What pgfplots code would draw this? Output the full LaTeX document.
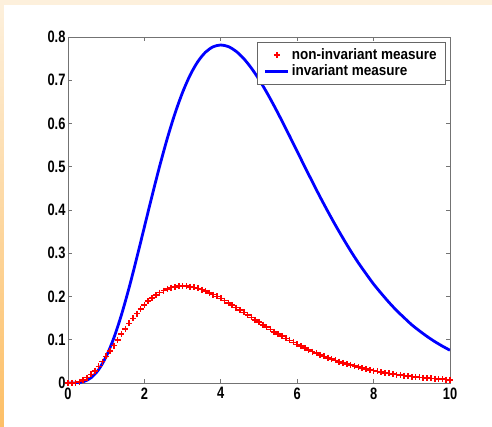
\documentclass[border=0pt]{standalone}
\usepackage{fontspec}
\setmainfont{Liberation Sans}
\newfontfamily\tickfont[FakeStretch=0.78]{Liberation Sans}
\newfontfamily\legfont[FakeStretch=0.9]{Liberation Sans}
\usepackage{pgfplots}
\pgfplotsset{compat=1.18}
\definecolor{stripe}{HTML}{FDBF66}
\definecolor{paper}{HTML}{FDF0DC}

% non-invariant measure (red + marks)
\pgfplotstableread{
x y
0.0 0.0000
0.1 0.0002
0.2 0.0011
0.3 0.0033
0.4 0.0072
0.5 0.0126
0.6 0.0198
0.7 0.0284
0.8 0.0383
0.9 0.0494
1.0 0.0613
1.1 0.0738
1.2 0.0867
1.3 0.0998
1.4 0.1128
1.5 0.1255
1.6 0.1378
1.7 0.1496
1.8 0.1607
1.9 0.1710
2.0 0.1804
2.1 0.1890
2.2 0.1966
2.3 0.2033
2.4 0.2090
2.5 0.2138
2.6 0.2176
2.7 0.2205
2.8 0.2225
2.9 0.2237
3.0 0.2240
3.1 0.2237
3.2 0.2226
3.3 0.2209
3.4 0.2186
3.5 0.2158
3.6 0.2125
3.7 0.2087
3.8 0.2046
3.9 0.2001
4.0 0.1954
4.1 0.1904
4.2 0.1852
4.3 0.1798
4.4 0.1743
4.5 0.1687
4.6 0.1631
4.7 0.1574
4.8 0.1517
4.9 0.1460
5.0 0.1404
5.1 0.1348
5.2 0.1293
5.3 0.1239
5.4 0.1185
5.5 0.1133
5.6 0.1082
5.7 0.1033
5.8 0.0985
5.9 0.0938
6.0 0.0892
6.1 0.0849
6.2 0.0806
6.3 0.0765
6.4 0.0726
6.5 0.0688
6.6 0.0652
6.7 0.0617
6.8 0.0584
6.9 0.0552
7.0 0.0521
7.1 0.0492
7.2 0.0465
7.3 0.0438
7.4 0.0413
7.5 0.0389
7.6 0.0366
7.7 0.0345
7.8 0.0324
7.9 0.0305
8.0 0.0286
8.1 0.0269
8.2 0.0253
8.3 0.0237
8.4 0.0222
8.5 0.0208
8.6 0.0195
8.7 0.0183
8.8 0.0172
8.9 0.0160
9.0 0.0149
9.1 0.0141
9.2 0.0131
9.3 0.0123
9.4 0.0114
9.5 0.0107
9.6 0.0100
9.7 0.0093
9.8 0.0087
9.9 0.0081
10.0 0.0076
}\noninv

% invariant measure (blue line)
\pgfplotstableread{
x y
0.0 0.0000
0.2 0.0002
0.4 0.0029
0.6 0.0119
0.8 0.0307
1.0 0.0613
1.2 0.1041
1.4 0.1579
1.6 0.2205
1.8 0.2892
2.0 0.3609
2.2 0.4326
2.4 0.5016
2.6 0.5657
2.8 0.6230
3.0 0.6721
3.2 0.7124
3.4 0.7433
3.6 0.7649
3.8 0.7774
4.0 0.7815
4.2 0.7777
4.4 0.7669
4.6 0.7501
4.8 0.7281
5.0 0.7019
5.2 0.6723
5.4 0.6401
5.6 0.6061
5.8 0.5711
6.0 0.5355
6.2 0.4997
6.4 0.4647
6.6 0.4301
6.8 0.3970
7.0 0.3650
7.2 0.3346
7.4 0.3054
7.6 0.2780
7.8 0.2529
8.0 0.2287
8.2 0.2072
8.4 0.1867
8.6 0.1678
8.8 0.1509
9.0 0.1345
9.2 0.1206
9.4 0.1076
9.6 0.0958
9.8 0.0853
10.0 0.0757
}\inv

\begin{document}
\begin{tikzpicture}[x=1pt,y=1pt]
% slide background
\fill[white] (-68,-43) rectangle (424,383);
\fill[paper] (-68,378) rectangle (424,383);
\shade[top color=paper, bottom color=stripe] (-68,-43) rectangle (-64,378);
\begin{axis}[
    scale only axis,
    width=382pt, height=346pt,
    xmin=0, xmax=10, ymin=0, ymax=0.8,
    xtick={0,2,4,6,8,10},
    ytick={0,0.1,0.2,0.3,0.4,0.5,0.6,0.7,0.8},
    yticklabel style={/pgf/number format/fixed, /pgf/number format/precision=1,
        xshift=1pt},
    xticklabel style={yshift=-1pt},
    tick label style={font=\tickfont\fontsize{16.5}{18}\selectfont\bfseries},
    /pgf/number format/assume math mode=true,
    axis line style={gray!90!black, line width=0.8pt},
    tick style={gray!90!black, line width=0.8pt},
    major tick length=4pt,
    tick align=inside,
    xtick pos=both, ytick pos=both,
    legend style={at={(0.9895,0.986)}, anchor=north east,
        draw=gray!80!black, line width=0.8pt,
        font=\legfont\fontsize{15}{17}\selectfont\bfseries,
        inner xsep=7pt, inner ysep=4.5pt, row sep=0pt, cells={anchor=west}},
    legend image code/.code={%
        \draw[mark repeat=2, mark phase=2, #1]
            plot coordinates {(0pt,0pt) (11.5pt,0pt) (23pt,0pt)};},
    legend cell align=left,
]
\addplot[only marks, red, mark=+, mark size=3pt, line width=1.6pt,
    mark options={red, solid}] table {\noninv};
\addlegendentry{non-invariant measure}
\addplot[blue, line width=2.8pt, smooth] table {\inv};
\addlegendentry{invariant measure}
\end{axis}
\end{tikzpicture}
\end{document}
